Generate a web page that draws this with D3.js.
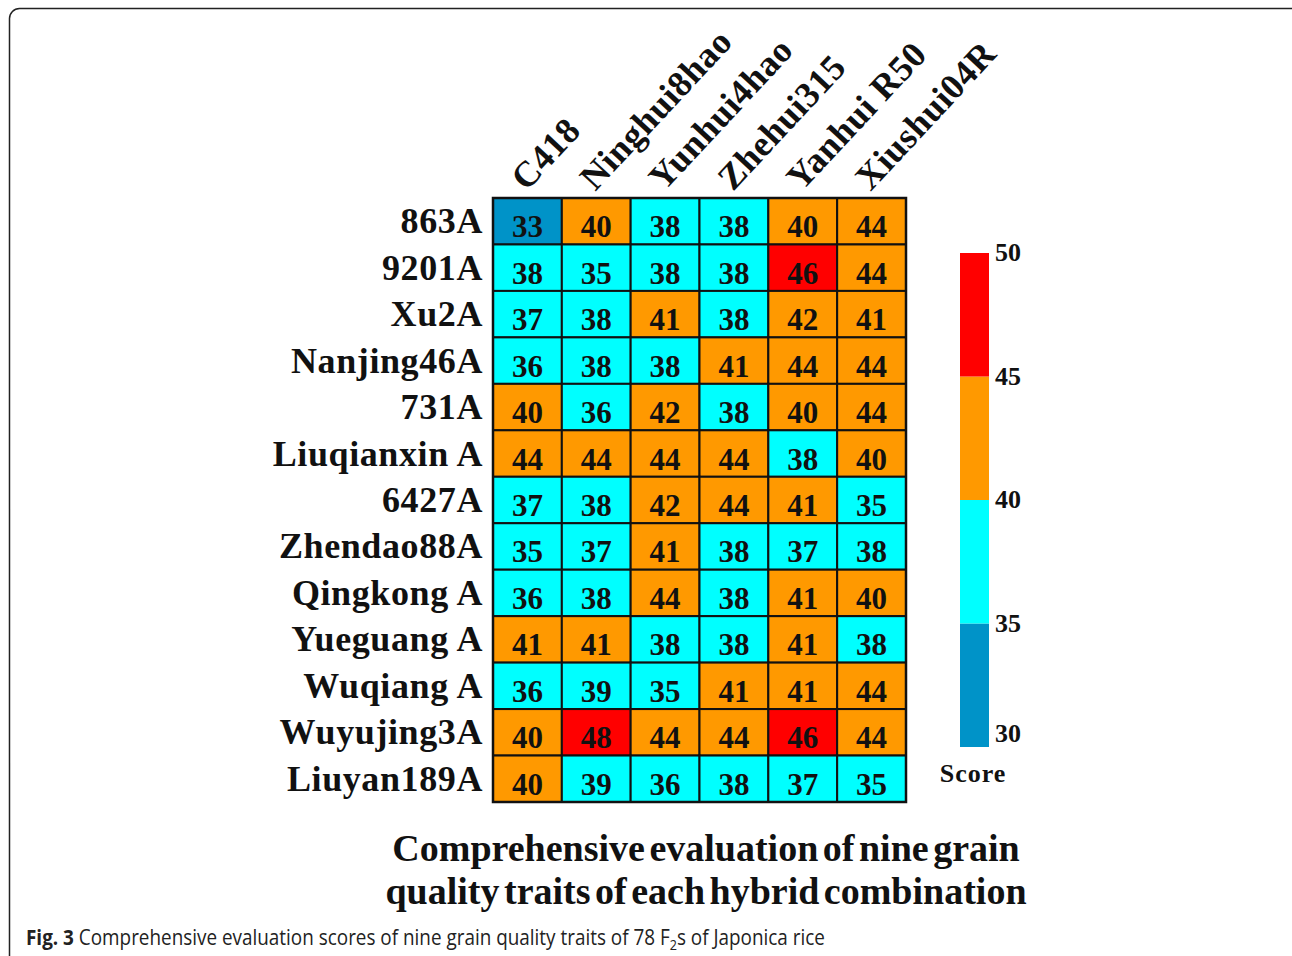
<!DOCTYPE html>
<html><head><meta charset="utf-8">
<script src="https://cdn.jsdelivr.net/npm/d3@7"></script>
<style>html,body{margin:0;padding:0;background:#fff;}</style>
</head><body>
<svg id="chart" width="1292" height="956"></svg>
<script>
const rows = ["863A","9201A","Xu2A","Nanjing46A","731A","Liuqianxin A","6427A","Zhendao88A","Qingkong A","Yueguang A","Wuqiang A","Wuyujing3A","Liuyan189A"];
const cols = ["C418","Ninghui8hao","Yunhui4hao","Zhehui315","Yanhui R50","Xiushui04R"];
const values = [
  [33,40,38,38,40,44],
  [38,35,38,38,46,44],
  [37,38,41,38,42,41],
  [36,38,38,41,44,44],
  [40,36,42,38,40,44],
  [44,44,44,44,38,40],
  [37,38,42,44,41,35],
  [35,37,41,38,37,38],
  [36,38,44,38,41,40],
  [41,41,38,38,41,38],
  [36,39,35,41,41,44],
  [40,48,44,44,46,44],
  [40,39,36,38,37,35]
];
const thresholds = [35,40,45];
const colors = ["#0093C8","#00FFFF","#FF9900","#FF0000"];
const legendTicks = [30,35,40,45,50];
const titleLines = ["Comprehensive evaluation of nine grain","quality traits of each hybrid combination"];

const svg = d3.select("#chart");
const serif = "'Liberation Serif','Times New Roman',serif";

// frame
svg.append("rect").attr("x",9.5).attr("y",8.5).attr("width",1300).attr("height",1000)
  .attr("rx",10).attr("fill","none").attr("stroke","#222").attr("stroke-width",1.5);

const x = d3.scaleBand().domain(cols).range([493,906]).padding(0);
const y = d3.scaleBand().domain(rows).range([198,802]).padding(0);
const color = d3.scaleThreshold().domain(thresholds).range(colors);

const cells = [];
values.forEach((r,i)=>r.forEach((v,j)=>cells.push({row:rows[i],col:cols[j],v})));

const g = svg.append("g");
g.selectAll("rect.cell").data(cells).join("rect").attr("class","cell")
  .attr("x",d=>x(d.col)).attr("y",d=>y(d.row))
  .attr("width",x.bandwidth()).attr("height",y.bandwidth())
  .attr("fill",d=>color(d.v)).attr("stroke","#111").attr("stroke-width",2);
g.append("rect").attr("x",493).attr("y",198).attr("width",413).attr("height",604)
  .attr("fill","none").attr("stroke","#111").attr("stroke-width",2.5);

g.selectAll("text.val").data(cells).join("text").attr("class","val")
  .attr("x",d=>x(d.col)+x.bandwidth()/2).attr("y",d=>y(d.row)+y.bandwidth()/2+16)
  .attr("text-anchor","middle").attr("font-family",serif).attr("font-weight","bold")
  .attr("font-size",31).attr("fill","#111").text(d=>d.v);

// row labels
svg.selectAll("text.rl").data(rows).join("text").attr("class","rl")
  .attr("x",483).attr("y",d=>y(d)+y.bandwidth()/2+12)
  .attr("text-anchor","end").attr("font-family",serif).attr("font-weight","bold")
  .attr("font-size",36).attr("letter-spacing",0.6).attr("fill","#111").text(d=>d);

// column labels
svg.selectAll("text.cl").data(cols).join("text").attr("class","cl")
  .attr("transform",d=>`translate(${x(d)+x.bandwidth()/2-1},${192}) rotate(-47)`)
  .attr("text-anchor","start").attr("font-family",serif).attr("font-weight","bold")
  .attr("font-size",36).attr("letter-spacing",0.5).attr("fill","#111").text(d=>d);

// legend
const ly = d3.scaleLinear().domain([30,50]).range([747,253]);
const segs = [[30,35],[35,40],[40,45],[45,50]];
svg.selectAll("rect.leg").data(segs).join("rect").attr("class","leg")
  .attr("x",960).attr("width",29).attr("y",d=>ly(d[1])).attr("height",d=>ly(d[0])-ly(d[1]))
  .attr("fill",d=>color(d[0]));
svg.selectAll("text.lt").data(legendTicks).join("text").attr("class","lt")
  .attr("x",995).attr("y",d=> d===30 ? ly(d)-5 : ly(d)+8)
  .attr("font-family",serif).attr("font-weight","bold").attr("font-size",26).attr("fill","#111")
  .text(d=>d);
svg.append("text").attr("x",973).attr("y",782).attr("text-anchor","middle")
  .attr("font-family",serif).attr("font-weight","bold").attr("font-size",26).attr("letter-spacing",1).attr("fill","#111").text("Score");

// title
svg.selectAll("text.title").data(titleLines).join("text").attr("class","title")
  .attr("x",706).attr("y",(d,i)=>861+i*43).attr("text-anchor","middle")
  .attr("font-family",serif).attr("font-weight","bold").attr("font-size",38).attr("fill","#111")
  .attr("word-spacing",-5).text(d=>d);

// caption
const cap = svg.append("text").attr("transform","translate(26,945) scale(0.9,1)")
  .attr("font-family","'Open Sans',sans-serif").attr("font-size",21).attr("fill","#222");
cap.append("tspan").attr("font-weight","bold").text("Fig. 3");
cap.append("tspan").text(" Comprehensive evaluation scores of nine grain quality traits of 78 F");
cap.append("tspan").attr("font-size",14).attr("dy",5).text("2");
cap.append("tspan").attr("dy",-5).text("s of Japonica rice");
</script>
</body></html>
